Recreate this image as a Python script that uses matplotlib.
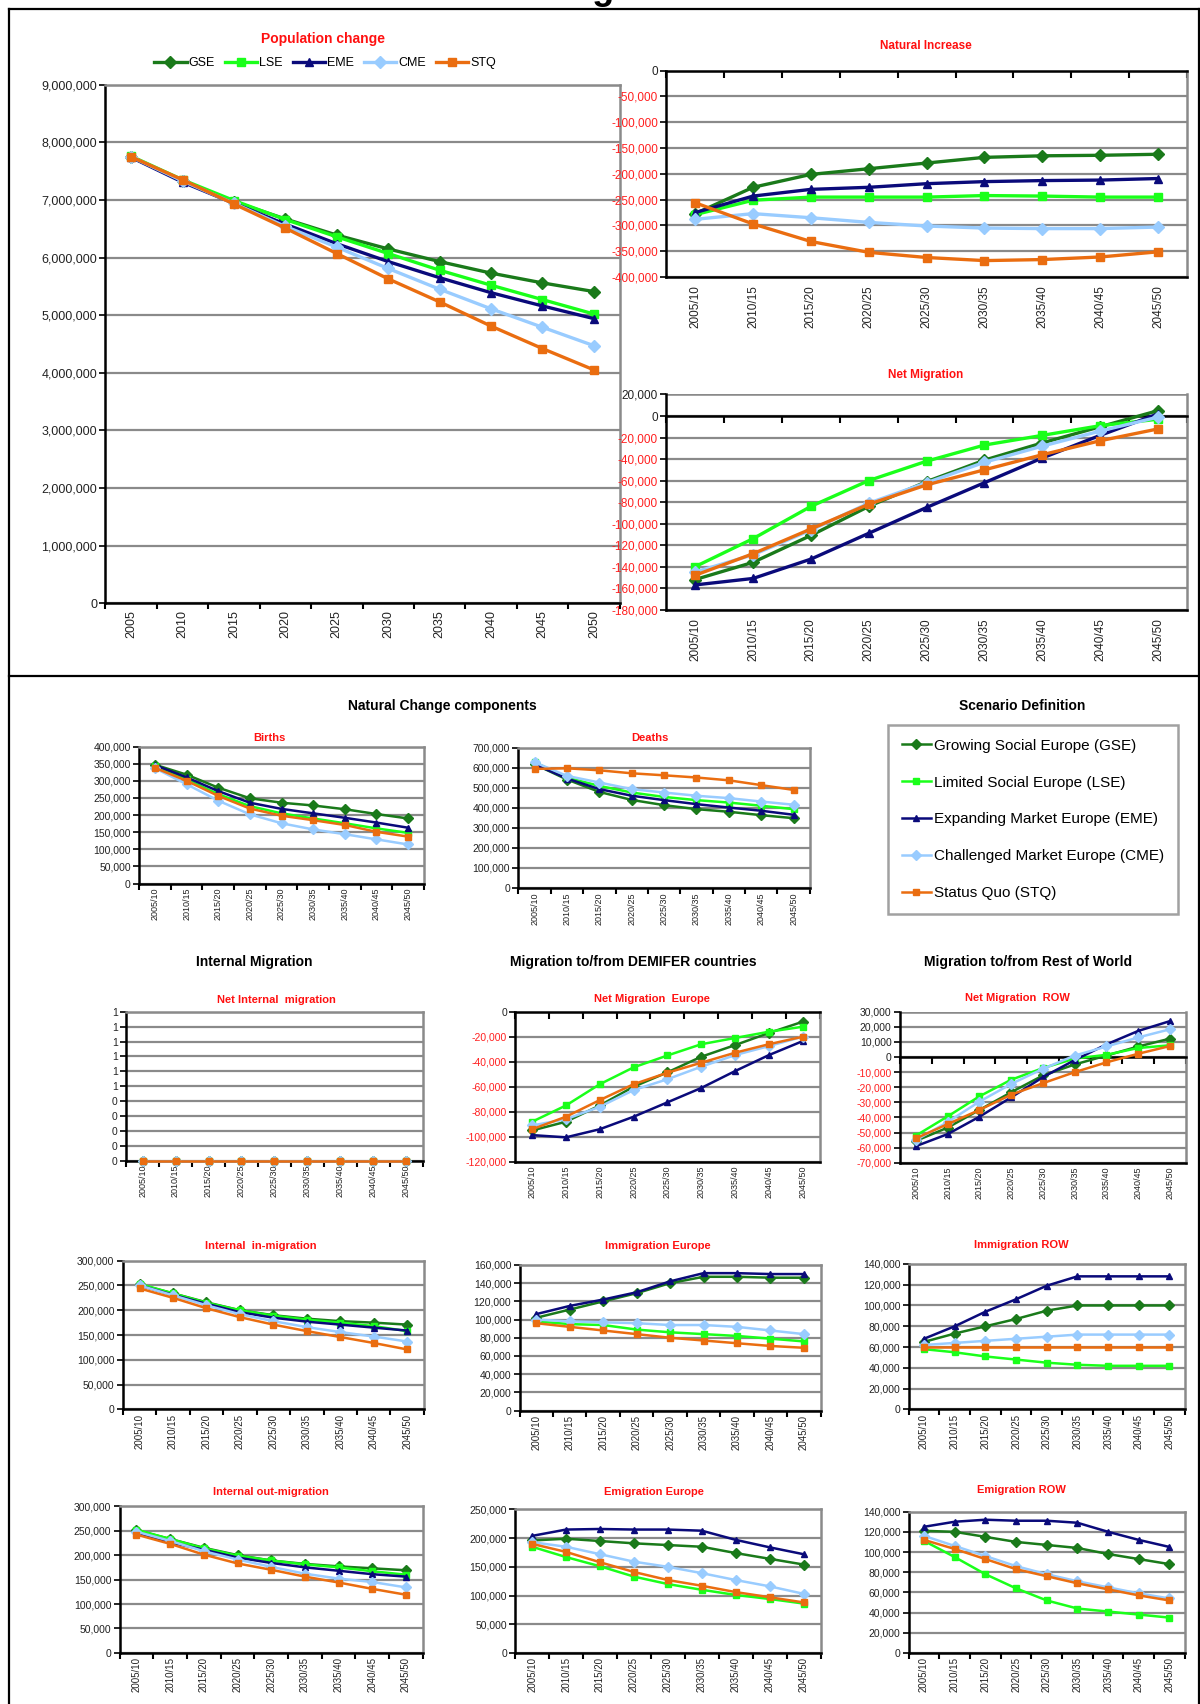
import numpy as np
import matplotlib
matplotlib.use('Agg')
import matplotlib.pyplot as plt
from matplotlib import font_manager
from matplotlib.lines import Line2D
from matplotlib.ticker import FixedLocator

# fonts: Arial-like if available
names = {f.name for f in font_manager.fontManager.ttflist}
base = 'Liberation Sans' if 'Liberation Sans' in names else 'DejaVu Sans'
narrow = 'Liberation Sans Narrow' if 'Liberation Sans Narrow' in names else base
plt.rcParams['font.family'] = [base, 'DejaVu Sans']

# categories
years = ['2005', '2010', '2015', '2020', '2025', '2030', '2035', '2040', '2045', '2050']
periods = ['2005/10', '2010/15', '2015/20', '2020/25', '2025/30',
           '2030/35', '2035/40', '2040/45', '2045/50']
codes = ['GSE', 'LSE', 'EME', 'CME', 'STQ']
long_names = ['Growing Social Europe (GSE)', 'Limited Social Europe (LSE)',
              'Expanding Market Europe (EME)', 'Challenged Market Europe (CME)',
              'Status Quo (STQ)']
colors = {'GSE': '#1a7a1a', 'LSE': '#1aff1a', 'EME': '#0a0a7a', 'CME': '#99ccff', 'STQ': '#ea6d10'}
markers = {'GSE': 'D', 'LSE': 's', 'EME': '^', 'CME': 'D', 'STQ': 's'}

# series values
population = {
    'GSE': [7750000, 7330000, 6970000, 6670000, 6390000, 6150000, 5930000, 5730000, 5560000, 5410000],
    'LSE': [7760000, 7350000, 6990000, 6660000, 6360000, 6070000, 5780000, 5520000, 5270000, 5020000],
    'EME': [7740000, 7310000, 6940000, 6580000, 6240000, 5930000, 5650000, 5390000, 5160000, 4940000],
    'CME': [7750000, 7330000, 6940000, 6540000, 6180000, 5810000, 5450000, 5110000, 4790000, 4470000],
    'STQ': [7750000, 7350000, 6930000, 6510000, 6070000, 5630000, 5230000, 4810000, 4420000, 4050000],
}
natural_increase = {
    'GSE': [-277000, -226000, -201000, -190000, -179000, -168000, -165000, -164000, -162000],
    'LSE': [-279000, -251000, -245000, -245000, -245000, -242000, -243000, -245000, -245000],
    'EME': [-275000, -243000, -230000, -226000, -219000, -215000, -213000, -212000, -209000],
    'CME': [-288000, -277000, -285000, -294000, -301000, -305000, -306000, -306000, -303000],
    'STQ': [-256000, -297000, -331000, -352000, -362000, -368000, -366000, -361000, -351000],
}
net_migration = {
    'GSE': [-152000, -136000, -111000, -84000, -61000, -41000, -25000, -10000, 5000],
    'LSE': [-140000, -114000, -84000, -60000, -42000, -27000, -18000, -9000, -3000],
    'EME': [-157000, -151000, -133000, -109000, -85000, -62000, -39000, -18000, 2000],
    'CME': [-145000, -129000, -106000, -81000, -62000, -43000, -28000, -14000, -1000],
    'STQ': [-148000, -128000, -105000, -82000, -64000, -50000, -36000, -23000, -12000],
}
births = {
    'GSE': [347000, 318000, 280000, 249000, 236000, 228000, 217000, 203000, 190000],
    'LSE': [343000, 304000, 261000, 226000, 205000, 190000, 176000, 161000, 148000],
    'EME': [346000, 310000, 270000, 236000, 218000, 205000, 192000, 178000, 163000],
    'CME': [337000, 290000, 242000, 202000, 176000, 158000, 144000, 129000, 114000],
    'STQ': [338000, 300000, 256000, 219000, 198000, 185000, 171000, 151000, 137000],
}
deaths = {
    'GSE': [617000, 541000, 479000, 439000, 413000, 393000, 380000, 363000, 348000],
    'LSE': [627000, 550000, 509000, 476000, 454000, 438000, 426000, 410000, 393000],
    'EME': [617000, 546000, 493000, 460000, 438000, 418000, 401000, 385000, 365000],
    'CME': [627000, 559000, 526000, 493000, 476000, 460000, 448000, 431000, 415000],
    'STQ': [594000, 597000, 587000, 572000, 562000, 551000, 537000, 513000, 489000],
}
net_internal = {
    'GSE': [0, 0, 0, 0, 0, 0, 0, 0, 0],
    'LSE': [0, 0, 0, 0, 0, 0, 0, 0, 0],
    'EME': [0, 0, 0, 0, 0, 0, 0, 0, 0],
    'CME': [0, 0, 0, 0, 0, 0, 0, 0, 0],
    'STQ': [0, 0, 0, 0, 0, 0, 0, 0, 0],
}
net_europe = {
    'GSE': [-95000, -88000, -75000, -60000, -48500, -36000, -26700, -17000, -8000],
    'LSE': [-88000, -75000, -58000, -44500, -35000, -26000, -21000, -16000, -12000],
    'EME': [-98700, -100500, -94000, -84000, -72500, -61000, -47500, -34700, -23500],
    'CME': [-91000, -86000, -76000, -62700, -54000, -44000, -34700, -27500, -20000],
    'STQ': [-94000, -84000, -70700, -58000, -48800, -40800, -32800, -26000, -20000],
}
net_row = {
    'GSE': [-55500, -46700, -35000, -23300, -12200, -4900, 1000, 7000, 12200],
    'LSE': [-52000, -39300, -26000, -15000, -7300, -1000, 1500, 6000, 7800],
    'EME': [-59000, -51000, -39500, -26700, -13300, -2000, 8400, 17300, 23800],
    'CME': [-55000, -43000, -29500, -17800, -7800, 1000, 7000, 13000, 18400],
    'STQ': [-53800, -44400, -35000, -24900, -17300, -10000, -3500, 2200, 7300],
}
internal_in = {
    'GSE': [252000, 234000, 216000, 200000, 190000, 183000, 178000, 175000, 171000],
    'LSE': [253000, 234000, 215000, 200000, 189000, 181000, 175000, 168000, 158000],
    'EME': [250000, 231000, 213000, 196000, 185000, 177000, 171000, 165000, 159000],
    'CME': [250000, 230000, 210000, 192000, 178000, 166000, 156000, 147000, 137000],
    'STQ': [244000, 225000, 204000, 186000, 171000, 158000, 146000, 134000, 121000],
}
immigration_europe = {
    'GSE': [102000, 111000, 120000, 129000, 140000, 147000, 147000, 146000, 146000],
    'LSE': [98000, 95000, 94000, 89000, 86000, 84000, 82000, 79000, 76000],
    'EME': [106000, 115000, 122000, 130000, 142000, 151000, 151000, 150000, 150000],
    'CME': [100000, 98000, 97000, 96000, 94000, 94000, 92000, 88000, 84000],
    'STQ': [96000, 92000, 88000, 84000, 80000, 77000, 74000, 71000, 69000],
}
immigration_row = {
    'GSE': [65000, 73000, 80000, 87000, 95000, 100000, 100000, 100000, 100000],
    'LSE': [58000, 55000, 51000, 48000, 45000, 43000, 42000, 42000, 42000],
    'EME': [68000, 80000, 94000, 106000, 119000, 128000, 128000, 128000, 128000],
    'CME': [62000, 64000, 66000, 68000, 70000, 72000, 72000, 72000, 72000],
    'STQ': [60000, 60000, 60000, 60000, 60000, 60000, 60000, 60000, 60000],
}
internal_out = {
    'GSE': [251000, 233000, 215000, 200000, 189000, 182000, 177000, 173000, 169000],
    'LSE': [252000, 233000, 214000, 199000, 189000, 181000, 175000, 167000, 160000],
    'EME': [245000, 226000, 211000, 195000, 184000, 175000, 168000, 161000, 156000],
    'CME': [248000, 229000, 208000, 191000, 176000, 162000, 152000, 145000, 134000],
    'STQ': [242000, 223000, 201000, 183000, 170000, 156000, 144000, 131000, 119000],
}
emigration_europe = {
    'GSE': [196000, 199000, 195000, 191000, 188000, 185000, 174000, 164000, 154000],
    'LSE': [185000, 167000, 151000, 133000, 120000, 110000, 101000, 94000, 86000],
    'EME': [204000, 215000, 216000, 215000, 215000, 213000, 197000, 184000, 172000],
    'CME': [193000, 185000, 172000, 159000, 150000, 139000, 127000, 116000, 103000],
    'STQ': [190000, 176000, 158000, 141000, 127000, 117000, 106000, 97000, 88000],
}
emigration_row = {
    'GSE': [121000, 120000, 115000, 110000, 107000, 104000, 98000, 93000, 88000],
    'LSE': [111000, 95000, 78000, 64000, 52000, 44000, 41000, 38000, 35000],
    'EME': [125000, 130000, 132000, 131000, 131000, 129000, 120000, 112000, 105000],
    'CME': [116000, 106000, 96000, 86000, 78000, 71000, 65000, 59000, 54000],
    'STQ': [112000, 103000, 93000, 83000, 76000, 69000, 63000, 57000, 52000],
}

W, H = 1104.0, 1568.0   # layout measured on the shrunk picture


def R(l, t, r, b):
    return [l / W, 1 - b / H, (r - l) / W, (b - t) / H]


def P(x, y):
    return (x / W, 1 - y / H)


fig = plt.figure(figsize=(12, 17.04), dpi=100)


def comma(v):
    return f'{v:,.0f}'


def half_up(v):
    return str(int(np.floor(v + 0.5 + 1e-9)))


def panel(rect, series, cats, ylim, step, fs=7.5, xfs=6.5, lw=1.8, ms=5.0,
          cross=False, font=None, fmt=comma, xpad=3):
    font = font or base
    ax = fig.add_axes(rect)
    if cross:
        # category axis crosses the value axis at 0 (must come before tick setup)
        ax.spines['top'].set_position(('data', 0))
    x = np.arange(len(cats))
    for c in codes:
        ax.plot(x, series[c], color=colors[c], marker=markers[c], lw=lw, ms=ms,
                mec=colors[c], clip_on=False, zorder=3)
    ax.set_xlim(-0.5, len(cats) - 0.5)
    ax.set_ylim(*ylim)
    yt = np.arange(ylim[0], ylim[1] + step / 2, step)
    ax.set_yticks(yt)
    ax.set_yticklabels([fmt(v) for v in yt], fontsize=fs, family=font)
    for lab, v in zip(ax.get_yticklabels(), yt):
        lab.set_color('#ff2020' if v < 0 else '#222222')
    ax.set_xticks(x)
    ax.set_xticklabels(cats, rotation=90, fontsize=xfs, family=font, color='#222222')
    ax.xaxis.set_minor_locator(FixedLocator(np.arange(-0.5, len(cats), 1.0)))
    ax.tick_params(axis='x', which='major', length=0, pad=xpad, top=False, labeltop=False)
    ax.tick_params(axis='y', which='major', length=4, width=1.2, direction='out', pad=2)
    ax.yaxis.grid(True, color='#8a8a8a', lw=1.6)
    ax.set_axisbelow(True)
    for s in ['top', 'right']:
        ax.spines[s].set_color('#8a8a8a')
        ax.spines[s].set_linewidth(1.8)
    for s in ['left', 'bottom']:
        ax.spines[s].set_color('black')
        ax.spines[s].set_linewidth(1.8)
    if cross:
        ax.spines['top'].set_color('black')
        ax.tick_params(axis='x', which='minor', top=True, bottom=False,
                       direction='in', length=5, width=1.5)
        if ylim[1] > 0:
            ax.axhline(ylim[1], color='#8a8a8a', lw=1.8, zorder=1)
    else:
        ax.tick_params(axis='x', which='minor', bottom=True, direction='out',
                       length=4, width=1.5)
    return ax


def red_title(x, y, txt, fs=8.5, font=None):
    fig.text(*P(x, y), txt, color='#ff1010', fontweight='bold', fontsize=fs,
             ha='center', va='center', family=font or base)


def head(x, y, txt):
    fig.text(*P(x, y), txt, color='black', fontweight='bold', fontsize=10,
             ha='center', va='center')


# frame lines
for (x0, y0, x1, y1) in [(8, 8, 1104, 8), (8, 8, 8, 1568), (1103, 8, 1103, 1568), (8, 622, 1104, 622)]:
    fig.add_artist(Line2D([x0 / W, x1 / W], [1 - y0 / H, 1 - y1 / H], color='black', lw=1.6))

# country title, cut off at the top edge as in the source
fig.text(0.506, 1 + 1.0 / 1704, 'Bulgaria', fontsize=26, fontweight='bold',
         ha='center', va='baseline')

# --- top section ---
ax_pop = panel(R(97, 78, 570, 555), population, years, (0, 9000000), 1000000,
               fs=9, xfs=9, lw=2.4, ms=6.0, xpad=5)
red_title(297, 36, 'Population change', fs=10)
fig.legend(ax_pop.get_lines(), codes, loc='center', bbox_to_anchor=P(299, 58), ncol=5,
           frameon=False, fontsize=9, handlelength=2.6, columnspacing=0.8,
           handletextpad=0.15)

panel(R(613, 65, 1092, 255), natural_increase, periods, (-400000, 0), 50000,
      fs=8.5, xfs=8.5, lw=2.4, ms=6.0, cross=True, xpad=6)
red_title(852, 42, 'Natural Increase')

panel(R(613, 363, 1092, 561), net_migration, periods, (-180000, 20000), 20000,
      fs=8.5, xfs=8.5, lw=2.4, ms=6.0, cross=True, xpad=6)
red_title(852, 345, 'Net Migration')

# --- bottom section ---
head(407, 650, 'Natural Change components')
head(940, 650, 'Scenario Definition')
head(234, 885, 'Internal Migration')
head(583, 885, 'Migration to/from DEMIFER countries')
head(946, 885, 'Migration to/from Rest of World')

ax_b = panel(R(128, 687, 390, 813), births, periods, (0, 400000), 50000)
red_title(248, 679, 'Births', fs=8)
panel(R(477, 688, 745, 817), deaths, periods, (0, 700000), 100000)
red_title(598, 679, 'Deaths', fs=8)

leg = fig.legend(ax_b.get_lines(), long_names, loc='upper left', bbox_to_anchor=P(817, 667),
                 frameon=True, fancybox=False, edgecolor='#8a8a8a', fontsize=11,
                 labelspacing=1.5, handlelength=1.9, handletextpad=0.2, borderpad=0.9,
                 borderaxespad=0)
leg.get_frame().set_linewidth(1.8)

panel(R(116, 931, 389, 1068), net_internal, periods, (0, 1), 0.1, fmt=half_up)
red_title(254, 920, 'Net Internal  migration', fs=8)
panel(R(474, 931, 754, 1069), net_europe, periods, (-120000, 0), 20000, cross=True)
red_title(600, 919, 'Net Migration  Europe', fs=8)
panel(R(828, 931, 1091, 1070), net_row, periods, (-70000, 30000), 10000, cross=True)
red_title(936, 918, 'Net Migration  ROW', fs=8)

panel(R(113, 1160, 390, 1297), internal_in, periods, (0, 300000), 50000, font=narrow, fs=7.5, xfs=7)
red_title(240, 1147, 'Internal  in-migration', fs=8, font=narrow)
panel(R(478, 1164, 755, 1298), immigration_europe, periods, (0, 160000), 20000, font=narrow, fs=7.5, xfs=7)
red_title(605, 1147, 'Immigration Europe', fs=8, font=narrow)
panel(R(836, 1163, 1090, 1297), immigration_row, periods, (0, 140000), 20000, font=narrow, fs=7.5, xfs=7)
red_title(940, 1146, 'Immigration ROW', fs=8, font=narrow)

panel(R(110, 1386, 389, 1521), internal_out, periods, (0, 300000), 50000, font=narrow, fs=7.5, xfs=7)
red_title(249, 1373, 'Internal out-migration', fs=8, font=narrow)
panel(R(474, 1389, 755, 1521), emigration_europe, periods, (0, 250000), 50000, font=narrow, fs=7.5, xfs=7)
red_title(602, 1373, 'Emigration Europe', fs=8, font=narrow)
panel(R(836, 1391, 1090, 1521), emigration_row, periods, (0, 140000), 20000, font=narrow, fs=7.5, xfs=7)
red_title(940, 1371, 'Emigration ROW', fs=8, font=narrow)

fig.savefig('out.png', dpi=100)
